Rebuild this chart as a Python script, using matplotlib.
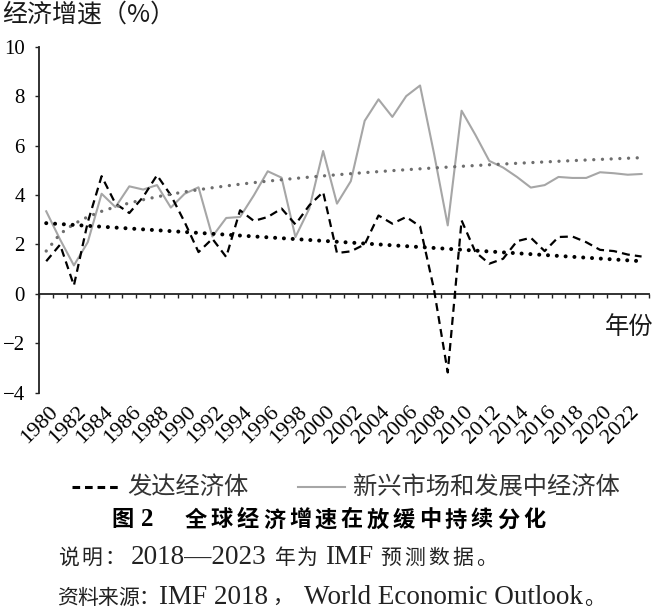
import matplotlib
matplotlib.use('Agg')
import matplotlib.pyplot as plt
import numpy as np
from matplotlib.lines import Line2D
from matplotlib.transforms import blended_transform_factory, offset_copy

# données (croissance en %)
years = list(range(1980, 2024))
advanced = [1.32, 1.99, 0.34, 2.9, 4.76, 3.65, 3.27, 3.92, 4.8, 3.99,
            2.9, 1.69, 2.23, 1.49, 3.38, 2.95, 3.11, 3.45, 2.81, 3.58,
            4.12, 1.65, 1.72, 2.0, 3.17, 2.84, 3.11, 2.73, 0.2, -3.18,
            2.97, 1.69, 1.22, 1.42, 2.13, 2.27, 1.73, 2.30, 2.32, 2.09,
            1.78, 1.73, 1.59, 1.51]
emerging = [3.34, 2.2, 1.15, 2.09, 4.05, 3.51, 4.35, 4.22, 4.40, 3.49,
            4.05, 4.31, 2.32, 3.07, 3.11, 3.99, 4.96, 4.70, 2.30, 3.45,
            5.78, 3.65, 4.56, 7.0, 7.87, 7.16, 8.0, 8.43, 5.7, 2.77,
            7.41, 6.43, 5.38, 5.11, 4.73, 4.30, 4.40, 4.73, 4.69, 4.69,
            4.92, 4.88, 4.82, 4.85]
# tendance linéaire des pays avancés : valeurs lues au début et à la fin
adv_trend = [2.86, 1.32]
yticks = [-4, -2, 0, 2, 4, 6, 8, 10]
name_adv = '发达经济体'
name_emg = '新兴市场和发展中经济体'

CJK = ['Noto Sans CJK SC', 'DejaVu Sans']
SERIF = ['Liberation Serif', 'Noto Sans CJK SC', 'DejaVu Sans']
plt.rcParams['font.family'] = CJK

W, H = 658, 616
fig = plt.figure(figsize=(W / 100, H / 100), dpi=100)
ax = fig.add_axes([39.3 / W, 1 - 392.7 / H, (648.5 - 39.3) / W, (392.7 - 46.7) / H])

x = np.arange(len(years))
ax.plot(x, emerging, color='#a6a6a6', lw=1.5, zorder=2)
ax.plot(x, advanced, color='black', lw=1.6, ls=(0, (3.6, 2.3)), zorder=3)

# courbes de tendance
ax.plot([x[0], x[-1]], adv_trend, color='black', lw=2.9, ls=(0, (0.01, 2.18)),
        dash_capstyle='round', zorder=5)
t = x + 1
a, c = np.polyfit(np.log(t), emerging, 1)
ax.plot(x, a * np.log(t) + c, color='#6e6e6e', lw=2.4, ls=(0, (0.01, 2.6)),
        dash_capstyle='round', zorder=4)

ax.set_xlim(-0.5, len(years) - 0.5)
ax.set_ylim(-4, 10)
ax.spines['top'].set_visible(False)
ax.spines['right'].set_visible(False)
ax.spines['bottom'].set_position(('data', 0))
ax.spines['bottom'].set_linewidth(1.3)
ax.spines['left'].set_linewidth(1.3)
ax.spines['bottom'].set_color('#222222')
ax.spines['left'].set_color('#222222')

ax.set_xticks(np.arange(-0.5, len(years), 1))
ax.tick_params(axis='x', direction='out', length=3, width=1, color='#222222', labelbottom=False)
ax.set_yticks(yticks)
ax.set_yticklabels([str(v).replace('-', '\u2212') for v in yticks], fontfamily=SERIF, fontsize=15)
ax.tick_params(axis='y', direction='out', length=3, width=1, color='#222222', pad=7.4)

# étiquettes des années, tournées à 45°
blend = blended_transform_factory(ax.transData, ax.transAxes)
trans = offset_copy(blend, fig=fig, x=9, y=-17, units='dots')
for i in range(0, len(years), 2):
    ax.text(x[i], 0, str(years[i]), transform=trans, rotation=45, ha='right', va='center',
            rotation_mode='anchor', fontsize=16, family=SERIF, clip_on=False)

fig.text(2 / W, 1 - 15 / H, '经济增速（%）', ha='left', va='center', fontsize=18, color='#1a1a1a')
fig.text(629 / W, 1 - 327 / H, '年份', ha='center', va='center', fontsize=17.5, color='#1a1a1a')

# légende faite à la main
ly = 1 - 487 / H
fig.add_artist(Line2D([72 / W, 122 / W], [ly, ly], color='black', lw=2.2, ls=(0, (2.5, 1.6))))
fig.text(127 / W, ly, name_adv, ha='left', va='center', fontsize=17.5, color='#333333')
fig.add_artist(Line2D([298 / W, 345 / W], [ly, ly], color='#a6a6a6', lw=1.5))
fig.text(353 / W, ly, name_emg, ha='left', va='center', fontsize=17.5, color='#333333')


def spaced(x0, y, s, step, **kw):
    # un caractère à la fois pour imiter l'espacement du texte d'origine
    for i, ch in enumerate(s):
        fig.text((x0 + step * (i + 0.5)) / W, 1 - y / H, ch, ha='center', va='center', **kw)


def latin(x0, y, s):
    fig.text(x0 / W, 1 - y / H, s, ha='left', va='center', fontsize=19.5, family=SERIF, color='#222222')


# titre de la figure
spaced(112, 520, '图', 22, fontsize=16, fontweight='bold', family=CJK)
fig.text(141 / W, 1 - 520 / H, '2', ha='left', va='center', fontsize=18, fontweight='bold', family=SERIF)
spaced(183, 520, '全球经济增速在放缓中持续分化', 26, fontsize=16, fontweight='bold', family=CJK)

# notes
note = dict(fontsize=15, family=CJK, color='#222222')
spaced(57, 558, '说明：', 23, **note)
latin(131, 558, '2018—2023')
spaced(274, 558, '年为', 22, **note)
latin(325, 558, 'IMF')
spaced(379, 558, '预测数据。', 24, **note)

spaced(57, 598, '资料来源：', 20.5, **note)
latin(159, 598, 'IMF 2018')
spaced(272, 598, '，', 22, **note)
latin(304, 598, 'World Economic Outlook')
spaced(584, 598, '。', 22, **note)

fig.savefig('out.png', dpi=100)
